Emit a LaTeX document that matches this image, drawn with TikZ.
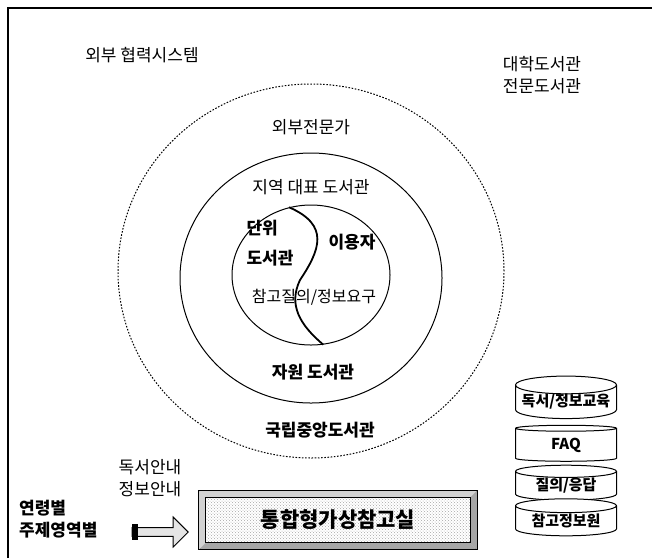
\documentclass[tikz,border=0pt]{standalone}
\usepackage{fontspec}
\setmainfont{Noto Sans CJK KR}
\usetikzlibrary{shapes.geometric,shapes.arrows,patterns,calc}

\begin{document}
\begin{tikzpicture}[x=1pt,y=-1pt,
    lbl/.style={font=\fontsize{17}{20}\selectfont, inner sep=0pt},
    blbl/.style={font=\fontsize{17}{20}\selectfont\bfseries, inner sep=0pt},
    db/.style={cylinder, shape border rotate=90, draw, line width=1pt, aspect=0.2,
        minimum width=101pt, fill=white, inner sep=0pt,
        font=\fontsize{15}{17}\selectfont\bfseries}]
    \useasboundingbox (0,0) rectangle (652,558);
    % frame
    \draw[line width=1.4pt] (8,558) -- (8,8) -- (652,8);

    % rings
    \node[ellipse, draw, dash pattern=on 1.6pt off 1.6pt, line width=1pt,
        minimum width=386pt, minimum height=374pt] (ext) at (311,271) {};
    \node[ellipse, draw, line width=1pt, minimum width=262pt, minimum height=250pt] (reg) at (311,278) {};
    \node[ellipse, draw, line width=1pt, minimum width=158pt, minimum height=140pt] (unit) at (311,275) {};
    \draw[line width=1.8pt] (unit.108) .. controls (330,225) and (320,250) .. (300,280)
        .. controls (288,305) and (300,325) .. (unit.-80);

    % labels
    \node[lbl] (coop) at (142,55) {외부 협력시스템};
    \node[lbl, align=center] (univ) at (542,75) {대학도서관\\[2pt]전문도서관};
    \node[lbl] (expert) at (311,127) {외부전문가};
    \node[lbl] (rep) at (311,187) {지역 대표 도서관};
    \node[blbl, align=left] (lib) at (270,243) {단위\\[10pt]도서관};
    \node[blbl] (user) at (352,242) {이용자};
    \node[lbl, font=\fontsize{16}{18}\selectfont] (query) at (314,297) {참고질의/정보요구};
    \node[blbl] (res) at (313,372) {자원 도서관};
    \node[blbl] (nat) at (320,430) {국립중앙도서관};

    % bottom
    \node[lbl, align=center] (guide) at (150,478) {독서안내\\[2pt]정보안내};
    \node[blbl, align=left, anchor=west] (age) at (19,519) {연령별\\[2pt]주제영역별};
    \node[single arrow, draw, line width=1pt, fill=gray!20, minimum height=56pt,
        minimum width=30pt, single arrow head extend=6pt, inner sep=2pt] (arr) at (158,532) {};
    \fill (arr.tail) ++(0,-8) rectangle ++(6,16);
    \node[draw, line width=1.4pt, fill=gray!8, pattern=crosshatch dots, pattern color=gray!70,
        minimum width=277pt, minimum height=58pt] (box) at (338,520) {};
    \fill[gray!35] (box.north west) -- (box.north east) -- ++(-7,7) -- ($(box.north west)+(7,7)$) -- cycle;
    \fill[gray!35] (box.north west) -- (box.south west) -- ++(7,-7) -- ($(box.north west)+(7,7)$) -- cycle;
    \fill[gray!70] (box.south west) -- (box.south east) -- ++(-7,-7) -- ($(box.south west)+(7,-7)$) -- cycle;
    \fill[gray!70] (box.north east) -- (box.south east) -- ++(-7,-7) -- ($(box.north east)+(-7,7)$) -- cycle;
    \draw[line width=0.8pt] (box.north west) rectangle (box.south east);
    \draw[line width=0.8pt] ($(box.north west)+(7,7)$) rectangle ($(box.south east)+(-7,-7)$);
    \node[font=\fontsize{21}{23}\selectfont\bfseries] (vrr) at (box.center) {통합형가상참고실};

    % databases
    \node[db, minimum height=34pt] (edu) at (566,402) {독서/정보교육};
    \node[db, minimum height=36pt] (faq) at (566,445) {FAQ};
    \node[db, minimum height=35pt] (qa) at (566,486) {질의/응답};
    \node[db, minimum height=37pt] (src) at (566,521) {참고정보원};
\end{tikzpicture}
\end{document}
